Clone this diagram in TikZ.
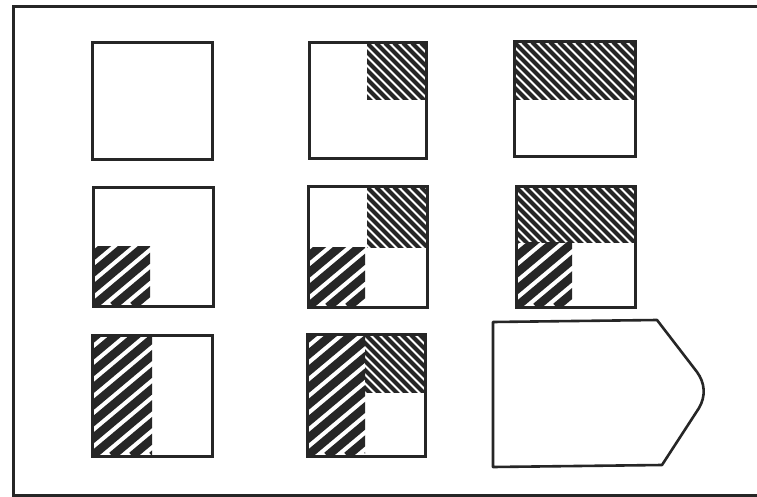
\documentclass[tikz,border=0pt]{standalone}
\tikzset{
  box/.style={draw=black!85, line width=3pt},
  finel/.style={black!85, line width=4.2pt},
  coarsel/.style={black!85, line width=8.5pt},
  framel/.style={draw=black!85, line width=3pt}
}
\newcommand\finehatch[4]{%
  \begin{scope}
    \clip (#1,#2) rectangle (#3,#4);
    \foreach \t in {-180,-171,...,150} \draw[finel] (#1+\t,#2) -- ++(200,200);
  \end{scope}}
\newcommand\coarsehatch[4]{%
  \begin{scope}
    \clip (#1,#2) rectangle (#3,#4);
    \foreach \t in {-200,-180,...,100} \draw[coarsel] (#1+\t,#4) -- ++(240,-201);
  \end{scope}}
\begin{document}
\begin{tikzpicture}[x=1pt,y=-1pt]
\useasboundingbox (0,0) rectangle (757,497);
\fill[white] (0,0) rectangle (757,497);
% outer frame (open on the right)
\draw[framel] (757,7) -- (13,7) -- (13,495) -- (757,495);
% hatching
\finehatch{367}{43}{426}{100}
\finehatch{514}{42}{635}{100}
\coarsehatch{93}{246}{150}{306}
\finehatch{367}{187}{427}{247}
\coarsehatch{308}{247}{365}{307}
\finehatch{516}{187}{635}{242}
\coarsehatch{516}{242}{572}{307}
\coarsehatch{92}{335}{152}{456}
\finehatch{365}{334}{425}{392}
\coarsehatch{307}{334}{365}{456}
% squares
\draw[box] (92,43) rectangle (212,160);
\draw[box] (309,43) rectangle (426,159);
\draw[box] (514,42) rectangle (635,157);
\draw[box] (93,188) rectangle (213,306);
\draw[box] (308,187) rectangle (427,307);
\draw[box] (516,187) rectangle (635,307);
\draw[box] (92,335) rectangle (212,456);
\draw[box] (307,334) rectangle (425,456);
% pentagon
\draw[draw=black!85, line width=2.6pt, line join=round]
  (493,322) -- (657,320) -- (697,372)
  .. controls (705,383) and (706,396) .. (699,408)
  -- (662,465) -- (493,467) -- cycle;
\end{tikzpicture}
\end{document}
